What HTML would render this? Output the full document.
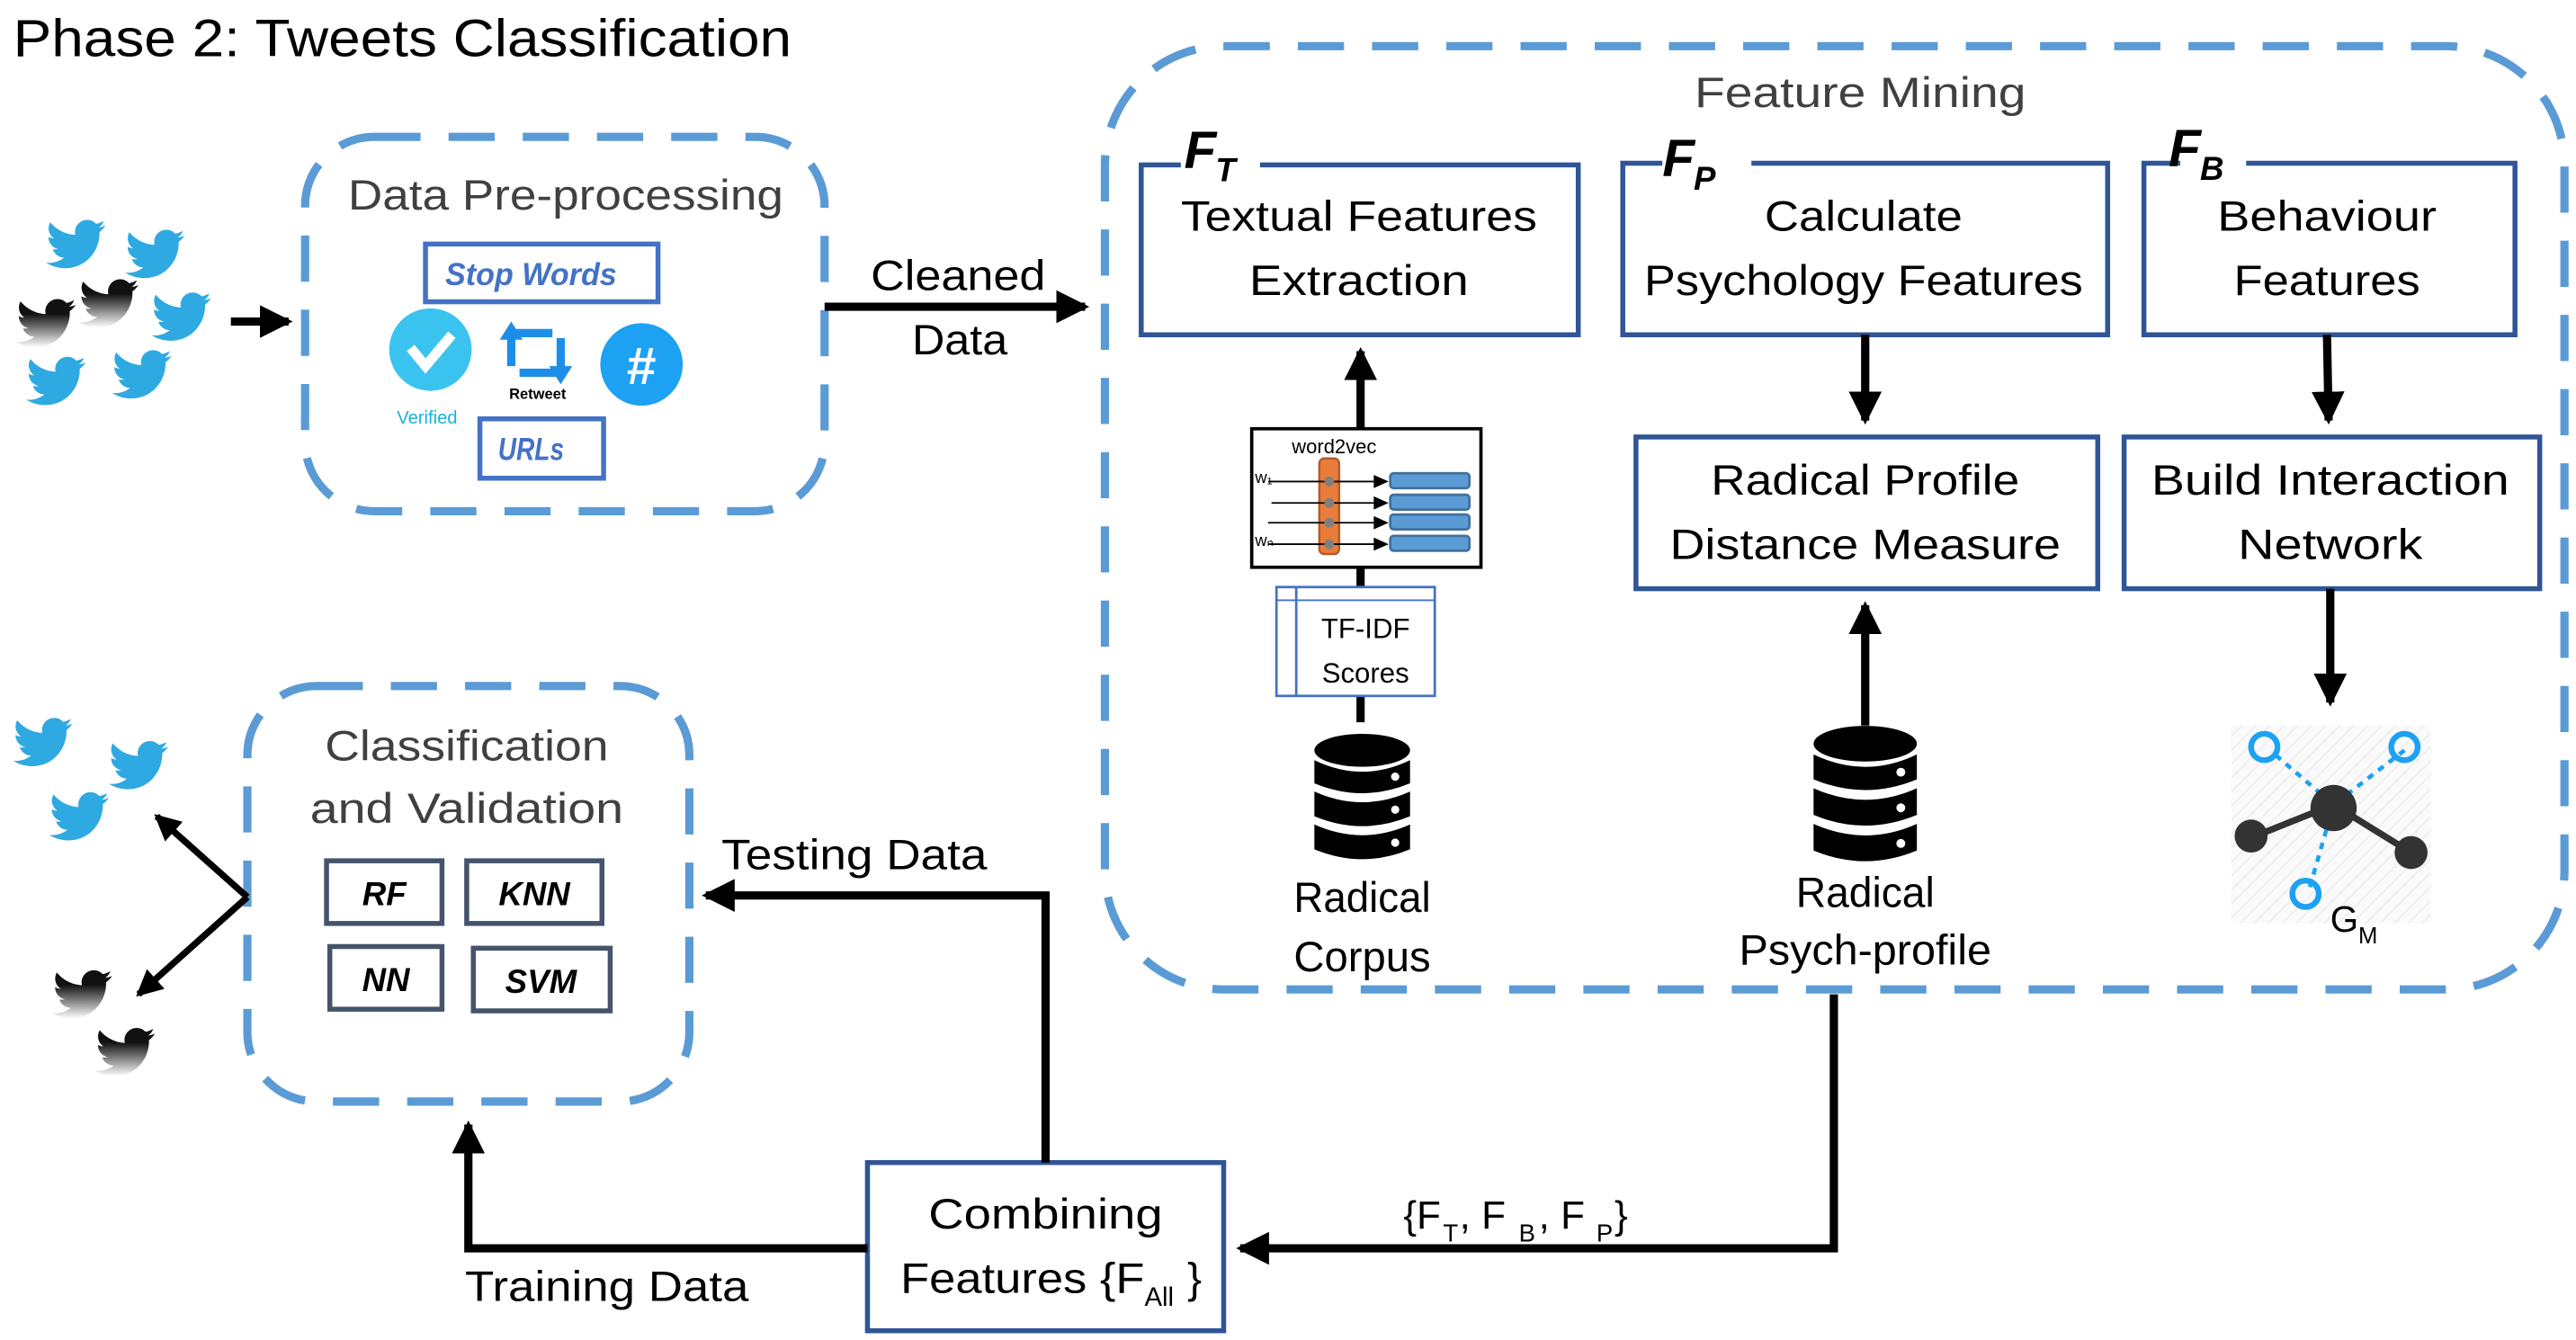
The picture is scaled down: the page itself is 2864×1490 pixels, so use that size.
<!DOCTYPE html>
<html><head><meta charset="utf-8"><style>html,body{margin:0;padding:0;background:#fff}svg{display:block}</style></head>
<body>
<svg width="2864" height="1490" viewBox="0 0 1562 812.6" preserveAspectRatio="none" xmlns="http://www.w3.org/2000/svg" font-family="Liberation Sans, sans-serif">
<defs>
<path id="bird" d="M23.954 4.569c-.885.389-1.83.654-2.825.775 1.014-.611 1.794-1.574 2.163-2.723-.951.555-2.005.959-3.127 1.184-.896-.959-2.173-1.559-3.591-1.559-2.717 0-4.920 2.203-4.920 4.917 0 .39.045.765.127 1.124C7.691 8.094 4.066 6.13 1.64 3.161c-.427.722-.666 1.561-.666 2.475 0 1.71.87 3.213 2.188 4.096-.807-.026-1.566-.248-2.228-.616v.061c0 2.385 1.693 4.374 3.946 4.827-.413.111-.849.171-1.296.171-.314 0-.615-.03-.916-.086.631 1.953 2.445 3.377 4.604 3.417-1.68 1.319-3.809 2.105-6.102 2.105-.39 0-.779-.023-1.17-.067 2.189 1.394 4.768 2.209 7.557 2.209 9.054 0 13.999-7.496 13.999-13.986 0-.209 0-.42-.015-.63.961-.689 1.8-1.65 2.46-2.55z"/>
<linearGradient id="dk" x1="0" y1="0" x2="0" y2="1"><stop offset="0.3" stop-color="#111"/><stop offset="1" stop-color="#fff"/></linearGradient>
<marker id="ah" markerWidth="4" markerHeight="4" refX="3.5" refY="2" orient="auto" markerUnits="strokeWidth"><path d="M0,0 L4,2 L0,4 z" fill="#000"/></marker>
<pattern id="hatch" width="6" height="6" patternUnits="userSpaceOnUse" patternTransform="rotate(45)"><rect width="6" height="6" fill="#fafafa"/><line x1="0" y1="0" x2="0" y2="6" stroke="#ececec" stroke-width="1.5"/></pattern>
<g id="db"><ellipse cx="0" cy="0" rx="29" ry="10" fill="#000"/>
<path d="M-29,6 Q0,20 29,6 L29,20 Q0,32 -29,20 z" fill="#000"/>
<path d="M-29,25 Q0,38 29,25 L29,40 Q0,52 -29,40 z" fill="#000"/>
<path d="M-29,45 Q0,58 29,45 L29,60 Q0,72 -29,60 z" fill="#000"/>
<circle cx="20" cy="16" r="2.5" fill="#fff"/><circle cx="20" cy="36" r="2.5" fill="#fff"/><circle cx="20" cy="56" r="2.5" fill="#fff"/></g>
</defs>

<text x="8" y="34" font-size="32" fill="#000" textLength="472" lengthAdjust="spacingAndGlyphs">Phase 2: Tweets Classification</text>

<g fill="#2ea9e1">
<use href="#bird" transform="translate(28,130) scale(1.5)"/>
<use href="#bird" transform="translate(76,136) scale(1.5)"/>
<use href="#bird" transform="translate(92,174) scale(1.5)"/>
<use href="#bird" transform="translate(16,213) scale(1.5)"/>
<use href="#bird" transform="translate(68,209) scale(1.5)"/>
</g>
<g fill="url(#dk)">
<use href="#bird" transform="translate(10,178) scale(1.5)"/>
<use href="#bird" transform="translate(48,166) scale(1.5)"/>
</g>
<line x1="140" y1="195" x2="175" y2="195" stroke="#000" stroke-width="5" marker-end="url(#ah)"/>

<rect x="185" y="83" width="315" height="227" rx="42" fill="none" stroke="#5b9bd5" stroke-width="5" stroke-dasharray="28 17"/>
<text x="343" y="127" font-size="26" fill="#404040" text-anchor="middle" textLength="264" lengthAdjust="spacingAndGlyphs">Data Pre-processing</text>
<rect x="258" y="148" width="141" height="35" fill="none" stroke="#4472c4" stroke-width="3"/>
<text x="322" y="173" font-size="19" font-weight="bold" font-style="italic" fill="#4472c4" text-anchor="middle" textLength="104" lengthAdjust="spacingAndGlyphs">Stop Words</text>
<circle cx="261" cy="212" r="25" fill="#3bc3f0"/>
<path d="M249,211 L258,222 L274,203" fill="none" stroke="#fff" stroke-width="6"/>
<text x="259" y="257" font-size="11" fill="#1ab0e0" text-anchor="middle">Verified</text>
<path d="M310,222 L310,202 L335,202 M340,205 L340,226 L315,226" fill="none" stroke="#1d8ee8" stroke-width="5"/>
<path d="M303,206 L310,195 L317,206 z M333,222 L340,233 L347,222 z" fill="#1d8ee8"/>
<text x="326" y="242" font-size="9" font-weight="bold" fill="#000" text-anchor="middle">Retweet</text>
<circle cx="389" cy="221" r="25" fill="#1da1f2"/>
<text x="389" y="233" font-size="32" font-weight="bold" fill="#fff" text-anchor="middle">#</text>
<rect x="291" y="254" width="75" height="36" fill="none" stroke="#4472c4" stroke-width="3"/>
<text x="322" y="279" font-size="19" font-weight="bold" font-style="italic" fill="#4472c4" text-anchor="middle" textLength="40" lengthAdjust="spacingAndGlyphs">URLs</text>

<text x="581" y="176" font-size="26" text-anchor="middle" textLength="106" lengthAdjust="spacingAndGlyphs">Cleaned</text>
<text x="582" y="215" font-size="26" text-anchor="middle" textLength="58" lengthAdjust="spacingAndGlyphs">Data</text>
<line x1="500" y1="186" x2="658" y2="186" stroke="#000" stroke-width="5" marker-end="url(#ah)"/>

<rect x="670" y="28" width="885" height="572" rx="72" fill="none" stroke="#5b9bd5" stroke-width="5" stroke-dasharray="28 17"/>
<text x="1128" y="65" font-size="26" fill="#404040" text-anchor="middle" textLength="201" lengthAdjust="spacingAndGlyphs">Feature Mining</text>

<g fill="none" stroke="#2f5597" stroke-width="3">
<path d="M716,100 L692,100 L692,203 L957,203 L957,100 L764,100"/>
<path d="M1008,99 L984,99 L984,203 L1278,203 L1278,99 L1062,99"/>
<path d="M1322,99 L1300,99 L1300,203 L1525,203 L1525,99 L1362,99"/>
<rect x="992" y="265" width="280" height="92"/>
<rect x="1288" y="265" width="252" height="92"/>
</g>
<g font-weight="bold" font-style="italic">
<text x="718" y="102" font-size="32">F</text><text x="737" y="110" font-size="20">T</text>
<text x="1008" y="107" font-size="32">F</text><text x="1027" y="115" font-size="20">P</text>
<text x="1315" y="101" font-size="32">F</text><text x="1334" y="109" font-size="20">B</text>
</g>
<g font-size="26" text-anchor="middle">
<text x="824" y="140" textLength="216" lengthAdjust="spacingAndGlyphs">Textual Features</text>
<text x="824" y="179" textLength="133" lengthAdjust="spacingAndGlyphs">Extraction</text>
<text x="1130" y="140" textLength="120" lengthAdjust="spacingAndGlyphs">Calculate</text>
<text x="1130" y="179" textLength="266" lengthAdjust="spacingAndGlyphs">Psychology Features</text>
<text x="1411" y="140" textLength="133" lengthAdjust="spacingAndGlyphs">Behaviour</text>
<text x="1411" y="179" textLength="113" lengthAdjust="spacingAndGlyphs">Features</text>
<text x="1131" y="300" textLength="187" lengthAdjust="spacingAndGlyphs">Radical Profile</text>
<text x="1131" y="339" textLength="237" lengthAdjust="spacingAndGlyphs">Distance Measure</text>
<text x="1413" y="300" textLength="217" lengthAdjust="spacingAndGlyphs">Build Interaction</text>
<text x="1413" y="339" textLength="112" lengthAdjust="spacingAndGlyphs">Network</text>
<text x="826" y="553" textLength="83" lengthAdjust="spacingAndGlyphs">Radical</text>
<text x="826" y="589" textLength="83" lengthAdjust="spacingAndGlyphs">Corpus</text>
<text x="1131" y="550" textLength="84" lengthAdjust="spacingAndGlyphs">Radical</text>
<text x="1131" y="585" textLength="153" lengthAdjust="spacingAndGlyphs">Psych-profile</text>
</g>

<g stroke="#000" stroke-width="5">
<line x1="1131" y1="203" x2="1131" y2="255" marker-end="url(#ah)"/>
<line x1="1411" y1="203" x2="1412" y2="255" marker-end="url(#ah)"/>
<line x1="1131" y1="440" x2="1131" y2="367" marker-end="url(#ah)"/>
<line x1="1413" y1="357" x2="1413" y2="426" marker-end="url(#ah)"/>
<line x1="825" y1="260" x2="825" y2="213" marker-end="url(#ah)"/>
<line x1="825" y1="344" x2="825" y2="356"/>
<line x1="825" y1="422" x2="825" y2="438"/>
</g>

<!-- word2vec -->
<rect x="759" y="260" width="139" height="84" fill="#fff" stroke="#000" stroke-width="2"/>
<text x="809" y="275" font-size="12" text-anchor="middle">word2vec</text>
<rect x="800" y="278" width="12" height="58" rx="3" fill="#e97c3a" stroke="#b55a25" stroke-width="1.3"/>
<text x="761" y="293" font-size="10">w₁</text><text x="761" y="331" font-size="10">wₙ</text>
<g stroke="#000" stroke-width="1"><line x1="769" y1="292" x2="834" y2="292"/><line x1="771" y1="305" x2="834" y2="305"/><line x1="769" y1="317" x2="834" y2="317"/><line x1="769" y1="330" x2="834" y2="330"/></g>
<g fill="#000"><path d="M833,288 L842,292 L833,296z"/><path d="M833,301 L842,305 L833,309z"/><path d="M833,313 L842,317 L833,321z"/><path d="M833,326 L842,330 L833,334z"/></g>
<g fill="#7f7f7f"><circle cx="806" cy="292" r="3"/><circle cx="806" cy="305" r="3"/><circle cx="806" cy="317" r="3"/><circle cx="806" cy="330" r="3"/></g>
<g fill="#5b9bd5" stroke="#41719c" stroke-width="1.5">
<rect x="843" y="287" width="48" height="9" rx="2"/><rect x="843" y="300" width="48" height="9" rx="2"/><rect x="843" y="312" width="48" height="9" rx="2"/><rect x="843" y="325" width="48" height="9" rx="2"/></g>

<rect x="774" y="356" width="96" height="66" fill="#fff" stroke="#4472c4" stroke-width="1.5"/>
<line x1="774" y1="364" x2="870" y2="364" stroke="#4472c4" stroke-width="1"/>
<line x1="786" y1="356" x2="786" y2="422" stroke="#4472c4" stroke-width="1.5"/>
<text x="828" y="387" font-size="17" text-anchor="middle">TF-IDF</text>
<text x="828" y="414" font-size="17" text-anchor="middle">Scores</text>

<use href="#db" transform="translate(826,455)"/>
<use href="#db" transform="translate(1131,451) scale(1.08)"/>

<rect x="1353" y="440" width="121" height="120" fill="url(#hatch)"/>
<g stroke="#1da1f2" stroke-width="2.5" stroke-dasharray="4 4"><line x1="1380" y1="458" x2="1415" y2="488"/><line x1="1458" y1="455" x2="1415" y2="488"/><line x1="1415" y1="488" x2="1400" y2="540"/></g>
<g stroke="#333" stroke-width="4"><line x1="1365" y1="508" x2="1415" y2="488"/><line x1="1415" y1="488" x2="1462" y2="517"/></g>
<g fill="none" stroke="#1da1f2" stroke-width="3.5"><circle cx="1373" cy="453" r="8"/><circle cx="1458" cy="453" r="8"/><circle cx="1398" cy="542" r="8"/></g>
<g fill="#333"><circle cx="1415" cy="490" r="14"/><circle cx="1365" cy="507" r="10"/><circle cx="1462" cy="517" r="10"/></g>
<text x="1413" y="565" font-size="22">G</text><text x="1430" y="572" font-size="14">M</text>

<rect x="150" y="416" width="268" height="252" rx="42" fill="none" stroke="#5b9bd5" stroke-width="5" stroke-dasharray="28 17"/>
<text x="283" y="461" font-size="26" fill="#404040" text-anchor="middle" textLength="172" lengthAdjust="spacingAndGlyphs">Classification</text>
<text x="283" y="499" font-size="26" fill="#404040" text-anchor="middle" textLength="190" lengthAdjust="spacingAndGlyphs">and Validation</text>
<g fill="none" stroke="#44546a" stroke-width="3">
<rect x="198" y="522" width="70" height="38"/><rect x="283" y="522" width="82" height="38"/>
<rect x="200" y="574" width="68" height="38"/><rect x="287" y="575" width="83" height="38"/></g>
<g font-size="20" font-weight="bold" font-style="italic" text-anchor="middle">
<text x="233" y="549">RF</text><text x="324" y="549">KNN</text><text x="234" y="601">NN</text><text x="328" y="602">SVM</text></g>
<g stroke="#000" stroke-width="4"><line x1="150" y1="544" x2="95" y2="495" marker-end="url(#ah)"/><line x1="150" y1="544" x2="84" y2="603" marker-end="url(#ah)"/></g>
<g fill="#2ea9e1">
<use href="#bird" transform="translate(8,432) scale(1.5)"/>
<use href="#bird" transform="translate(66,446) scale(1.5)"/>
<use href="#bird" transform="translate(30,477) scale(1.5)"/></g>
<g fill="url(#dk)">
<use href="#bird" transform="translate(32,585) scale(1.5)"/>
<use href="#bird" transform="translate(58,620) scale(1.5)"/></g>

<rect x="526" y="705" width="216" height="102" fill="#fff" stroke="#2f5597" stroke-width="3"/>
<text x="634" y="745" font-size="26" text-anchor="middle" textLength="142" lengthAdjust="spacingAndGlyphs">Combining</text>
<text x="546" y="784" font-size="26" textLength="148" lengthAdjust="spacingAndGlyphs">Features {F</text><text x="694" y="792" font-size="16">All</text><text x="720" y="784" font-size="26">}</text>

<g stroke="#000" stroke-width="5" fill="none">
<polyline points="1112,603 1112,757 752,757" marker-end="url(#ah)"/>
<polyline points="634,705 634,543 428,543" marker-end="url(#ah)"/>
<polyline points="526,757 284,757 284,682" marker-end="url(#ah)"/>
</g>
<text x="851" y="745" font-size="24">{F</text><text x="875" y="753" font-size="15">T</text><text x="885" y="745" font-size="24">, F</text><text x="921" y="753" font-size="15">B</text><text x="933" y="745" font-size="24">, F</text><text x="968" y="753" font-size="15">P</text><text x="979" y="745" font-size="24">}</text>
<text x="518" y="527" font-size="26" text-anchor="middle" textLength="161" lengthAdjust="spacingAndGlyphs">Testing Data</text>
<text x="368" y="789" font-size="26" text-anchor="middle" textLength="172" lengthAdjust="spacingAndGlyphs">Training Data</text>
</svg>
</body></html>
